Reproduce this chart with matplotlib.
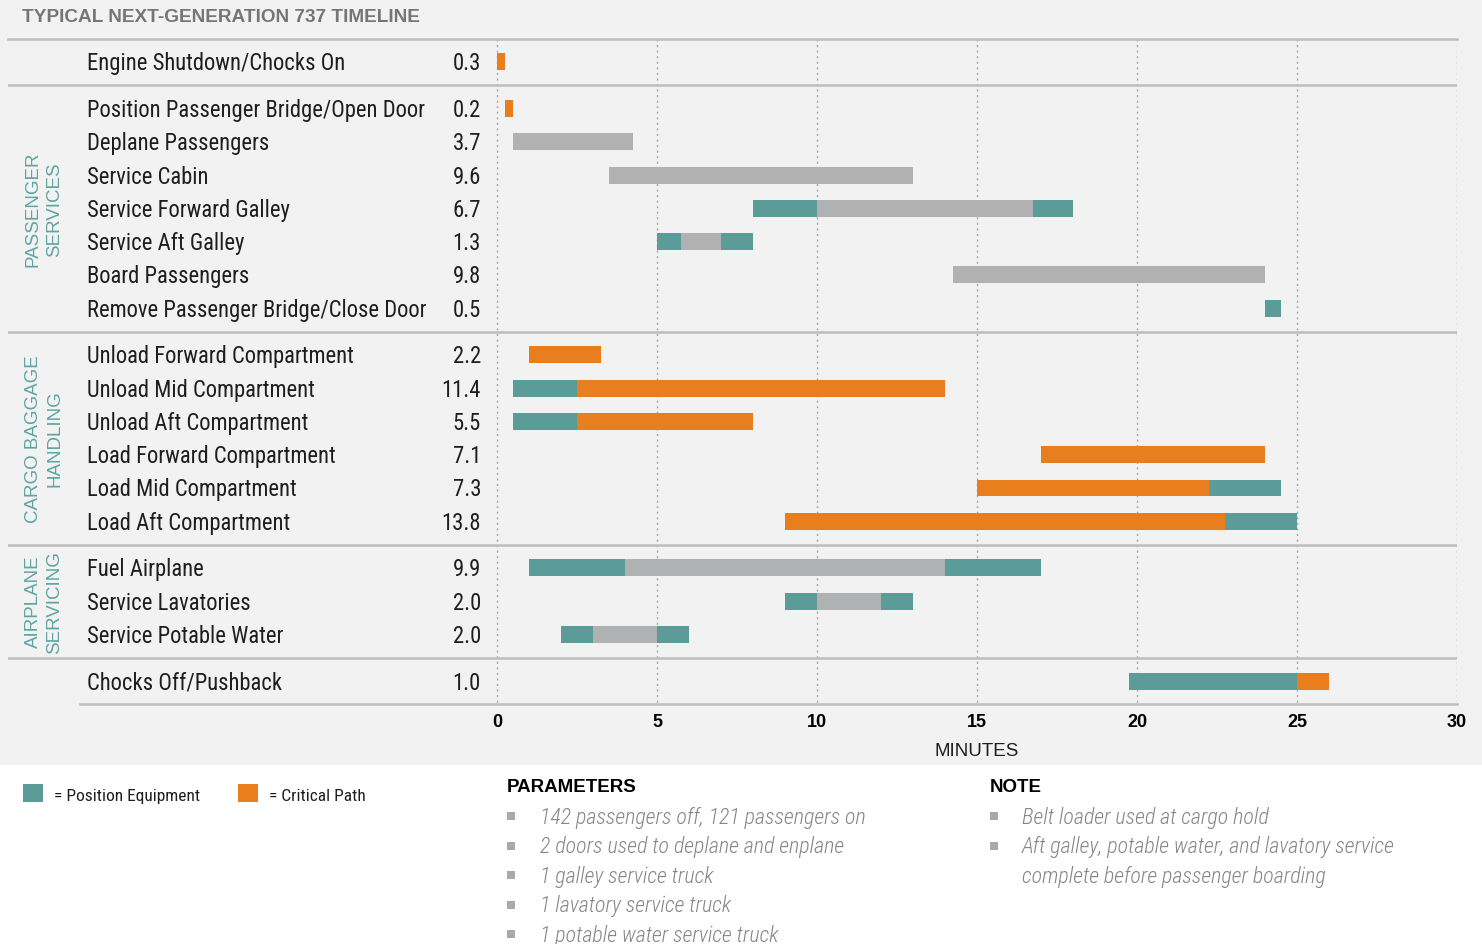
import os
import matplotlib.pyplot as plt
from matplotlib import font_manager as fm
from matplotlib.patches import Rectangle

# ---- data -------------------------------------------------------------
tasks = [
    "Engine Shutdown/Chocks On",
    "Position Passenger Bridge/Open Door",
    "Deplane Passengers",
    "Service Cabin",
    "Service Forward Galley",
    "Service Aft Galley",
    "Board Passengers",
    "Remove Passenger Bridge/Close Door",
    "Unload Forward Compartment",
    "Unload Mid Compartment",
    "Unload Aft Compartment",
    "Load Forward Compartment",
    "Load Mid Compartment",
    "Load Aft Compartment",
    "Fuel Airplane",
    "Service Lavatories",
    "Service Potable Water",
    "Chocks Off/Pushback",
]
durations = ["0.3", "0.2", "3.7", "9.6", "6.7", "1.3", "9.8", "0.5",
             "2.2", "11.4", "5.5", "7.1", "7.3", "13.8",
             "9.9", "2.0", "2.0", "1.0"]

group_names = ["", "PASSENGER\nSERVICES", "CARGO BAGGAGE\nHANDLING",
               "AIRPLANE\nSERVICING", ""]
group_sizes = [1, 7, 6, 3, 1]

# (start minute, end minute, kind)  E = position equipment, C = critical path, A = activity
segments = [
    [(0, 0.25, "C")],
    [(0.25, 0.5, "C")],
    [(0.5, 4.25, "A")],
    [(3.5, 13.0, "A")],
    [(8, 10, "E"), (10, 16.75, "A"), (16.75, 18, "E")],
    [(5, 5.75, "E"), (5.75, 7, "A"), (7, 8, "E")],
    [(14.25, 24, "A")],
    [(24, 24.5, "E")],
    [(1, 3.25, "C")],
    [(0.5, 2.5, "E"), (2.5, 14, "C")],
    [(0.5, 2.5, "E"), (2.5, 8, "C")],
    [(17, 24, "C")],
    [(15, 22.25, "C"), (22.25, 24.5, "E")],
    [(9, 22.75, "C"), (22.75, 25, "E")],
    [(1, 4, "E"), (4, 14, "A"), (14, 17, "E")],
    [(9, 10, "E"), (10, 12, "A"), (12, 13, "E")],
    [(2, 3, "E"), (3, 5, "A"), (5, 6, "E")],
    [(19.75, 25, "E"), (25, 26, "C")],
]

ticks = [0, 5, 10, 15, 20, 25, 30]

parameters = ["142 passengers off, 121 passengers on",
              "2 doors used to deplane and enplane",
              "1 galley service truck",
              "1 lavatory service truck",
              "1 potable water service truck"]
notes = ["Belt loader used at cargo hold",
         "Aft galley, potable water, and lavatory service\ncomplete before passenger boarding"]


# ---- fonts: look for a condensed face --------------------------------
def find_condensed(italic=False, light=False):
    prefs = ["robotocondensed", "liberationsansnarrow", "notosans", "opensans", "dejavusans"]
    bad = ["bold", "black", "medium", "thin", "extra", "semi", "ultra", "mono", "serif", "display"]
    found = {}
    for f in fm.fontManager.ttflist:
        name = os.path.basename(f.fname).lower().replace("-", "").replace("_", "")
        if not ("condensed" in name or "narrow" in name):
            continue
        if any(b in name for b in bad):
            continue
        is_it = ("italic" in name) or ("oblique" in name)
        if is_it != italic:
            continue
        for p in prefs:
            if name.startswith(p):
                is_light = "light" in name
                score = prefs.index(p) * 10 + (0 if is_light == light else 1)
                if p not in found or score < found[p][0]:
                    found[p] = (score, f.fname)
    if not found:
        return None
    return min(found.values())[1]


cond_path = find_condensed(False)
cond_it_path = find_condensed(True, light=True)


def cond_font(size, italic=False):
    path = cond_it_path if italic else cond_path
    if path is None:
        return fm.FontProperties(family="DejaVu Sans", size=size * 0.82,
                                 style="italic" if italic else "normal")
    return fm.FontProperties(fname=path, size=size)


# ---- style ------------------------------------------------------------
TEAL = "#5b9b98"
ORANGE = "#e97e1f"
GRAY = "#b0b1b3"
BG = "#f2f2f2"
LINE = "#bdbdbd"
colors = {"E": TEAL, "C": ORANGE, "A": GRAY}
SANS = ["Liberation Sans", "DejaVu Sans"]

W, H = 1482, 945
fig = plt.figure(figsize=(W / 100, H / 100), dpi=100)
fig.patch.set_facecolor("white")
fig.patches.append(Rectangle((0, 1 - 766 / H), 1, 766 / H, transform=fig.transFigure,
                             facecolor=BG, edgecolor="none", zorder=-10))


def fx(px):
    return px / W


def fy(py):
    return 1 - py / H


# y positions of rows (group gap = 1.4 rows)
ypos = []
seps = []
y = 0.0
for gi, n in enumerate(group_sizes):
    if gi > 0:
        seps.append(y + 0.7)
        y += 1.4
    for k in range(n):
        ypos.append(y)
        if k < n - 1:
            y += 1.0
ytop = -0.69
ybot = ypos[-1] + 0.69

px_per_min = 32.0
x0_px = 497
left_px = 8
xmin = -(x0_px - left_px) / px_per_min

ax = fig.add_axes([fx(left_px), fy(705), fx(1457) - fx(left_px), (705 - 40) / H])
ax.set_xlim(xmin, 30)
ax.set_ylim(ybot, ytop)
ax.set_facecolor("none")
for s in ax.spines.values():
    s.set_visible(False)
ax.set_xticks([])
ax.set_yticks([])

# grid
for t in ticks:
    ax.plot([t, t], [ytop, ybot], color="#a8a8a8", lw=1, ls=(0, (1.5, 2.5)), zorder=1)
# separators
ax.plot([xmin, 30], [ytop, ytop], color=LINE, lw=1.8, zorder=2, clip_on=False)
for s in seps:
    ax.plot([xmin, 30], [s, s], color=LINE, lw=1.8, zorder=2)
ax.plot([(80 - x0_px) / px_per_min, 30], [ybot, ybot], color=LINE, lw=1.8, zorder=2, clip_on=False)

# bars + row labels
label_fp = cond_font(16.3)
for i, segs in enumerate(segments):
    for a, b, kind in segs:
        ax.barh(ypos[i], b - a, left=a, height=0.51, color=colors[kind],
                edgecolor="none", zorder=3)
    ax.text((87 - x0_px) / px_per_min, ypos[i] + 0.03, tasks[i], ha="left", va="center",
            fontproperties=label_fp, color="#1e1e1e")
    ax.text((481 - x0_px) / px_per_min, ypos[i] + 0.03, durations[i], ha="right", va="center",
            fontproperties=label_fp, color="#1e1e1e")

# group labels
start = 0
for name, n in zip(group_names, group_sizes):
    if name:
        yc = (ypos[start] + ypos[start + n - 1]) / 2
        ax.text((44 - x0_px) / px_per_min, yc, name, rotation=90, ha="center", va="center",
                multialignment="center", fontsize=13.5, family=SANS, color="#5fa5a2",
                linespacing=1.35)
    start += n

# tick labels
for t in ticks:
    ax.text(t, ybot + 0.27, str(t), ha="center", va="top", fontsize=13, fontweight="bold",
            family=SANS, color="black")
ax.text(15, ybot + 1.13, "MINUTES", ha="center", va="top", fontsize=13.5, family=SANS,
        color="#1e1e1e")

# title
fig.text(fx(22), fy(17), "TYPICAL NEXT-GENERATION 737 TIMELINE", ha="left", va="center",
         fontsize=13.7, fontweight="bold", family=SANS, color="#767676")

# legend
leg_fp = cond_font(12.5)
fig.patches.append(Rectangle((fx(23), fy(803)), 20 / W, 18 / H, transform=fig.transFigure,
                             facecolor=TEAL, edgecolor="none"))
fig.text(fx(54), fy(797), "= Position Equipment", ha="left", va="center",
         fontproperties=leg_fp, color="#1e1e1e")
fig.patches.append(Rectangle((fx(238), fy(803)), 20 / W, 18 / H, transform=fig.transFigure,
                             facecolor=ORANGE, edgecolor="none"))
fig.text(fx(269), fy(797), "= Critical Path", ha="left", va="center",
         fontproperties=leg_fp, color="#1e1e1e")

# parameters & notes
it_fp = cond_font(15.8, italic=True)


def bullet_block(x_head, x_text, title, items):
    fig.text(fx(x_head), fy(788), title, ha="left", va="center", fontsize=13.5,
             fontweight="bold", family=SANS, color="black")
    yy = 817
    for it in items:
        fig.patches.append(Rectangle((fx(x_head), fy(yy + 4)), 8 / W, 8 / H,
                                     transform=fig.transFigure, facecolor="#a9a9a9",
                                     edgecolor="none"))
        lines = it.split("\n")
        for j, line in enumerate(lines):
            fig.text(fx(x_text), fy(yy + 1 + j * 29.5), line, ha="left", va="center",
                     fontproperties=it_fp, color="#858585")
        yy += 29.5 * len(lines)


bullet_block(507, 540, "PARAMETERS", parameters)
bullet_block(990, 1022, "NOTE", notes)

fig.savefig("out.png", dpi=100, facecolor=fig.get_facecolor())
